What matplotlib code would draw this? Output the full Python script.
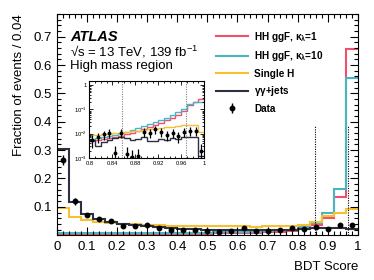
import numpy as np
import matplotlib
matplotlib.use("Agg")
import matplotlib.pyplot as plt
from matplotlib.lines import Line2D
from matplotlib.ticker import MultipleLocator, FixedLocator, NullFormatter

plt.rcParams['font.family'] = ['Liberation Sans', 'DejaVu Sans']
plt.rcParams['mathtext.fontset'] = 'custom'
plt.rcParams['mathtext.rm'] = 'Liberation Sans'
plt.rcParams['mathtext.it'] = 'Liberation Sans:italic'
plt.rcParams['mathtext.bf'] = 'Liberation Sans:bold'

# ---------------- data (main panel, bins of 0.04 from 0 to 1) ----------------
main_lo, main_hi, main_nbins = 0.0, 1.0, 25
hh_k1 = [0.001, 0.001, 0.001, 0.002, 0.002, 0.002, 0.002, 0.003, 0.003, 0.003,
         0.004, 0.004, 0.005, 0.006, 0.007, 0.008, 0.009, 0.011, 0.013, 0.016,
         0.022, 0.037, 0.060, 0.136, 0.655]
hh_k10 = [0.006, 0.006, 0.006, 0.006, 0.006, 0.006, 0.007, 0.007, 0.007, 0.008,
          0.008, 0.009, 0.009, 0.010, 0.011, 0.012, 0.013, 0.015, 0.017, 0.020,
          0.028, 0.044, 0.077, 0.162, 0.555]
single_h = [0.097, 0.064, 0.055, 0.048, 0.044, 0.041, 0.039, 0.037, 0.035, 0.034,
            0.033, 0.033, 0.032, 0.031, 0.031, 0.031, 0.030, 0.031, 0.031, 0.033,
            0.036, 0.045, 0.066, 0.080, 0.093]
gg_jets = [0.305, 0.117, 0.075, 0.058, 0.048, 0.038, 0.036, 0.033, 0.029, 0.027,
           0.023, 0.021, 0.020, 0.019, 0.018, 0.020, 0.017, 0.018, 0.019, 0.020,
           0.022, 0.024, 0.025, 0.026, 0.022]
data_vals = [0.265, 0.119, 0.071, 0.057, 0.051, 0.032, 0.034, 0.037, 0.024, 0.017,
             0.019, 0.017, 0.016, 0.011, 0.015, 0.027, 0.015, 0.016, 0.018, 0.025,
             0.023, 0.028, 0.023, 0.036, 0.036]
data_errs = [0.018, 0.011, 0.008, 0.007, 0.007, 0.006, 0.006, 0.006, 0.005, 0.004,
             0.004, 0.004, 0.004, 0.004, 0.004, 0.005, 0.004, 0.004, 0.004, 0.005,
             0.005, 0.005, 0.005, 0.006, 0.006]
cut_lines = [0.857, 0.968]
main_xticks = [0.0, 0.1, 0.2, 0.3, 0.4, 0.5, 0.6, 0.7, 0.8, 0.9, 1.0]
main_xticklabels = ['0', '0.1', '0.2', '0.3', '0.4', '0.5', '0.6', '0.7', '0.8', '0.9', '1']
main_yticks = [0.1, 0.2, 0.3, 0.4, 0.5, 0.6, 0.7]

# ---------------- data (inset, bins of 0.01 from 0.8 to 1) ----------------
ins_lo, ins_hi, ins_nbins = 0.8, 1.0, 20
ins_hh_k1 = [0.0050, 0.0055, 0.0060, 0.0065, 0.0072, 0.0082, 0.0095, 0.011, 0.013, 0.016,
             0.019, 0.023, 0.028, 0.035, 0.045, 0.060, 0.090, 0.15, 0.21, 0.27]
ins_hh_k10 = [0.0060, 0.0065, 0.0072, 0.0082, 0.0092, 0.0105, 0.012, 0.014, 0.017, 0.020,
              0.025, 0.030, 0.037, 0.046, 0.060, 0.078, 0.105, 0.17, 0.20, 0.20]
ins_single_h = [0.0085, 0.0090, 0.0095, 0.0100, 0.0105, 0.0110, 0.0120, 0.0125, 0.0130, 0.0140,
                0.0150, 0.0160, 0.0170, 0.0180, 0.0190, 0.0200, 0.0230, 0.0230, 0.0230, 0.0120]
ins_gg_jets = [0.0055, 0.0032, 0.0045, 0.0055, 0.0065, 0.0075, 0.0065, 0.0055, 0.0060, 0.0075,
               0.0048, 0.0048, 0.0060, 0.0055, 0.0065, 0.0060, 0.0072, 0.0075, 0.0075, 0.0012]
ins_data = [0.0055, 0.0075, 0.0095, 0.011, 0.0016, 0.011, 0.0014, 0.0011, 0.0012, 0.012,
            0.011, 0.015, 0.012, 0.009, 0.011, 0.008, 0.012, 0.013, 0.013, 0.002]
ins_err = [0.0030, 0.0035, 0.0040, 0.0045, 0.0016, 0.0045, 0.0014, 0.0011, 0.0012, 0.0045,
           0.0045, 0.0050, 0.0045, 0.0040, 0.0045, 0.0040, 0.0045, 0.0050, 0.0050, 0.0018]
ins_xticks = [0.8, 0.84, 0.88, 0.92, 0.96, 1.0]
ins_xticklabels = ['0.8', '0.84', '0.88', '0.92', '0.96', '1']
ins_yticks = [1e-3, 1e-2, 1e-1, 1]
ins_yticklabels = ['$10^{-3}$', '$10^{-2}$', '$10^{-1}$', '1']

c_k1 = '#f0506e'
c_k10 = '#48b4c4'
c_sh = '#f8c030'
c_gg = '#2c3040'

fig = plt.figure(figsize=(3.74, 2.80), dpi=100)
ax = fig.add_axes([0.152, 0.160, 0.805, 0.790])

edges = np.linspace(main_lo, main_hi, main_nbins + 1)
centers = 0.5 * (edges[:-1] + edges[1:])
lw = 1.5
ax.stairs(hh_k1, edges, color=c_k1, lw=lw, baseline=None)
ax.stairs(hh_k10, edges, color=c_k10, lw=lw, baseline=None)
ax.stairs(single_h, edges, color=c_sh, lw=lw, baseline=None)
ax.stairs(gg_jets, edges, color=c_gg, lw=lw, baseline=None)
ax.errorbar(centers, data_vals, yerr=data_errs, fmt='o', color='black', ms=3.2,
            elinewidth=1.0, capsize=0, zorder=5)
ax.vlines(cut_lines, 0, 0.39, colors='black', linestyles=(0, (1, 1.2)), lw=0.8)

ax.set_xlim(0, 1)
ax.set_ylim(0, 0.78)
ax.xaxis.set_major_locator(FixedLocator(main_xticks))
ax.set_xticklabels(main_xticklabels)
ax.xaxis.set_minor_locator(MultipleLocator(0.02))
ax.yaxis.set_major_locator(FixedLocator(main_yticks))
ax.yaxis.set_minor_locator(MultipleLocator(0.02))
ax.tick_params(which='both', direction='in', top=True, right=True, labelsize=9.5, width=0.8)
ax.tick_params(which='major', length=6)
ax.tick_params(which='minor', length=3)
ax.tick_params(axis='x', pad=4)
for s in ax.spines.values():
    s.set_linewidth(0.8)
ax.set_xlabel('BDT Score', fontsize=9.5, loc='right', labelpad=6)
ax.set_ylabel('Fraction of events / 0.04', fontsize=9.5, loc='top', labelpad=6)

ax.text(0.045, 0.896, 'ATLAS', transform=ax.transAxes, fontsize=10.5,
        fontweight='bold', fontstyle='italic', va='center')
ax.text(0.045, 0.829, '√s = 13 TeV, 139 fb$^{-1}$', transform=ax.transAxes,
        fontsize=9.5, va='center')
ax.text(0.045, 0.766, 'High mass region', transform=ax.transAxes,
        fontsize=9.5, va='center')

handles = [Line2D([], [], color=c_k1, lw=lw),
           Line2D([], [], color=c_k10, lw=lw),
           Line2D([], [], color=c_sh, lw=lw),
           Line2D([], [], color=c_gg, lw=lw),
           ax.errorbar([], [], yerr=[], fmt='o', color='black', ms=3.2, elinewidth=1.0)]
labels = ['HH ggF, $\\mathregular{\\kappa_{\\lambda}}$=1',
          'HH ggF, $\\mathregular{\\kappa_{\\lambda}}$=10',
          'Single H', '$\\mathregular{\\gamma\\gamma}$+jets', 'Data']
leg = ax.legend(handles, labels, loc='upper left', bbox_to_anchor=(0.50, 0.97),
                frameon=False, prop={'size': 7.2, 'weight': 'bold'},
                handlelength=3.2, handletextpad=0.6, labelspacing=0.55)

# ---------------- inset ----------------
ins = fig.add_axes([0.239, 0.436, 0.307, 0.275])
iedges = np.linspace(ins_lo, ins_hi, ins_nbins + 1)
icenters = 0.5 * (iedges[:-1] + iedges[1:])
ilw = 1.0
ins.stairs(ins_hh_k1, iedges, color=c_k1, lw=ilw, baseline=None)
ins.stairs(ins_hh_k10, iedges, color=c_k10, lw=ilw, baseline=None)
ins.stairs(ins_single_h, iedges, color=c_sh, lw=ilw, baseline=None)
ins.stairs(ins_gg_jets, iedges, color=c_gg, lw=ilw, baseline=None)
ins_d = np.array(ins_data)
ins_e = np.array(ins_err)
ins.errorbar(icenters, ins_d, yerr=[np.minimum(ins_e, ins_d - 1e-4), ins_e], fmt='o',
             color='black', ms=1.8, elinewidth=0.9, capsize=0, zorder=5)
ins.axvline(cut_lines[0], color='gray', ls=(0, (1, 1.2)), lw=0.8)
ins.axvline(cut_lines[1], color='gray', ls=(0, (1, 1.2)), lw=0.8)
ins.set_yscale('log')
ins.set_xlim(ins_lo, ins_hi)
ins.set_ylim(1e-3, 1.5)
ins.xaxis.set_major_locator(FixedLocator(ins_xticks))
ins.set_xticklabels(ins_xticklabels)
ins.xaxis.set_minor_locator(MultipleLocator(0.01))
ins.yaxis.set_major_locator(FixedLocator(ins_yticks))
ins.set_yticklabels(ins_yticklabels)
ins.yaxis.set_minor_formatter(NullFormatter())
ins.tick_params(which='both', direction='in', top=True, right=True, labelsize=4.2,
                width=0.6)
ins.tick_params(axis='x', pad=2.5)
ins.tick_params(axis='y', pad=2.0)
ins.tick_params(which='major', length=3)
ins.tick_params(which='minor', length=1.5)
for s in ins.spines.values():
    s.set_linewidth(0.8)

fig.savefig('out.png', dpi=100)
